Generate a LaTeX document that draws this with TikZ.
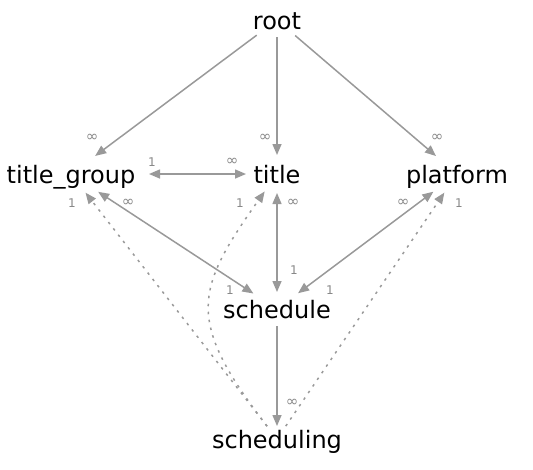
\documentclass[tikz,border=0pt]{standalone}
\usepackage{fontspec}
\setmainfont{DejaVu Sans}
\usetikzlibrary{arrows.meta,shapes.geometric}
\definecolor{lc}{HTML}{999999}
\definecolor{labc}{HTML}{888888}
\tikzset{
  nd/.style={ellipse, inner sep=0pt, outer sep=0pt},
  txt/.style={font=\fontsize{24}{24}\selectfont, text height=18pt, text depth=0pt, inner sep=0pt, text=black},
  tip/.tip={Triangle[length=11pt,width=9pt]},
  edgeline/.style={draw=lc, line width=1.5pt, -tip},
  bothline/.style={draw=lc, line width=1.5pt, tip-tip},
  dotline/.style={draw=lc, line width=1.5pt, dash pattern=on 2.5pt off 5.5pt, -tip},
  lab/.style={font=\fontsize{12}{12}\selectfont, text=labc, inner sep=0pt},
  inf/.style={font=\fontsize{15}{15}\selectfont, text=labc, inner sep=0pt}
}
\begin{document}
\begin{tikzpicture}[x=1pt,y=-1pt]
\useasboundingbox (0,0) rectangle (533,469);
% nodes
\node[nd, minimum width=90pt, minimum height=34pt, label={[txt]center:root}] (root) at (277,20) {};
\node[nd, minimum width=156pt, minimum height=38pt, label={[txt]center:title\_group}] (tg) at (71,174) {};
\node[nd, minimum width=62pt, minimum height=38pt, label={[txt]center:title}] (title) at (277,174) {};
\node[nd, minimum width=130pt, minimum height=38pt, label={[txt]center:platform}] (platform) at (457,174) {};
\node[nd, minimum width=114pt, minimum height=34pt, label={[txt]center:schedule}] (schedule) at (277,309) {};
\node[nd, minimum width=120pt, minimum height=26pt, label={[txt]center:scheduling}] (scheduling) at (277,439) {};
% edges
\draw[edgeline] (root) -- (tg);
\draw[edgeline] (root) -- (title);
\draw[edgeline] (root) -- (platform);
\draw[bothline] (tg) -- (title);
\draw[bothline] (tg) -- (schedule);
\draw[bothline] (title) -- (schedule);
\draw[bothline] (platform) -- (schedule);
\draw[edgeline] (schedule) -- (scheduling);
\draw[dotline] (scheduling) -- (tg);
\draw[dotline] (scheduling) .. controls (185,320) and (195,290) .. (title);
\draw[dotline] (scheduling) -- (platform);
% labels
\node[inf] (l1) at (92,138) {∞};
\node[inf] (l2) at (265,138) {∞};
\node[inf] (l3) at (437,138) {∞};
\node[lab] (l4) at (152,162) {1};
\node[inf] (l5) at (232,162) {∞};
\node[lab] (l6) at (72,203) {1};
\node[inf] (l7) at (128,203) {∞};
\node[lab] (l8) at (240,203) {1};
\node[inf] (l9) at (293,203) {∞};
\node[inf] (l10) at (403,203) {∞};
\node[lab] (l11) at (459,203) {1};
\node[lab] (l12) at (294,270) {1};
\node[lab] (l13) at (230,290) {1};
\node[lab] (l14) at (330,290) {1};
\node[inf] (l15) at (292,403) {∞};
\end{tikzpicture}
\end{document}
